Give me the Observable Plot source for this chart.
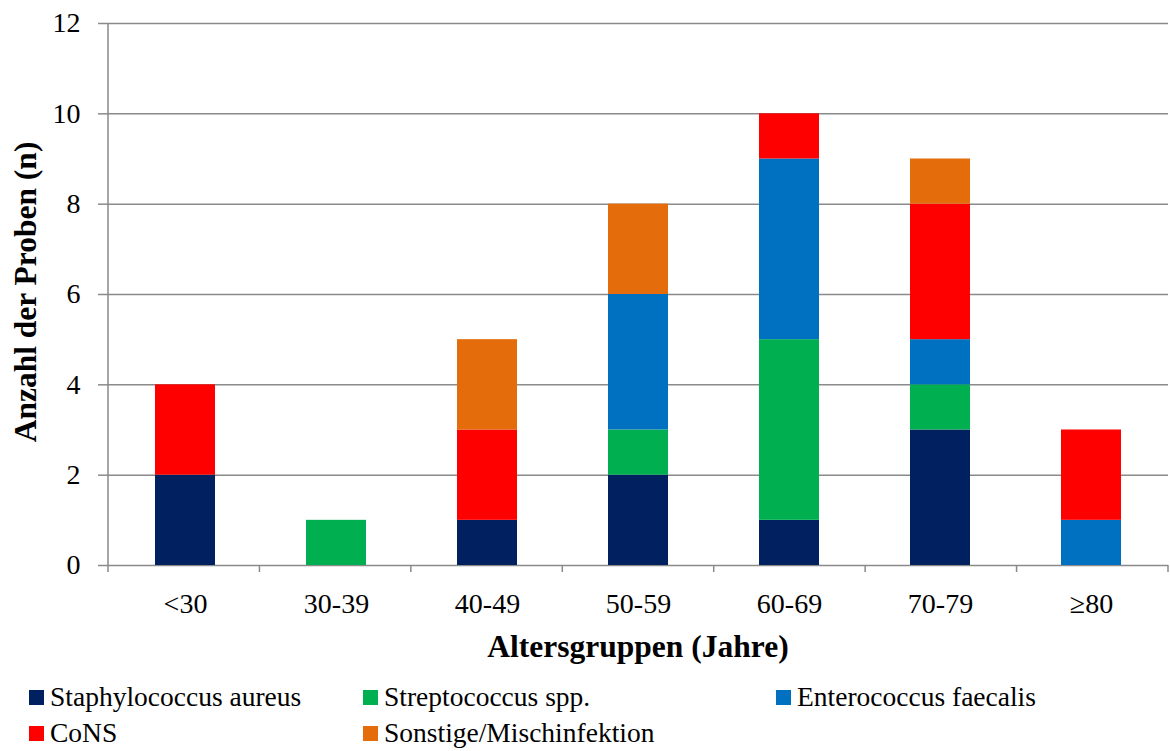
<!DOCTYPE html>
<html>
<head>
<meta charset="utf-8">
<script src="https://cdn.jsdelivr.net/npm/d3@7"></script>
<script src="https://cdn.jsdelivr.net/npm/@observablehq/plot@0.6"></script>
<style>
  body { margin: 0; background: #fff; font-family: "Liberation Serif", serif; }
  #chart { position: relative; width: 1170px; }
  .legend { display: grid; grid-template-columns: 334px 413px auto; padding-left: 29px; padding-top: 9px; font-size: 27.5px; line-height: 36px; color: #000; font-family: "Liberation Serif", serif; }
  .legend .item { display: flex; align-items: center; white-space: nowrap; }
  .legend .sw { width: 15px; height: 15px; margin-right: 6px; flex: none; }
</style>
</head>
<body>
<div id="chart"></div>
<script>
// Age groups (x categories)
const groups = ["<30", "30-39", "40-49", "50-59", "60-69", "70-79", "≥80"];
// Pathogen series, bottom to top in each stack
const species = ["Staphylococcus aureus", "Streptococcus spp.", "Enterococcus faecalis", "CoNS", "Sonstige/Mischinfektion"];
const colors = ["#002060", "#00B050", "#0070C0", "#FF0000", "#E46C0A"];
// Counts per age group for each pathogen
const staphAureus = [2, 0, 1, 2, 1, 3, 0];
const streptococcus = [0, 1, 0, 1, 4, 1, 0];
const enterococcus = [0, 0, 0, 3, 4, 1, 1];
const cons = [2, 0, 2, 0, 1, 3, 2];
const sonstige = [0, 0, 2, 2, 0, 1, 0];
const yTicks = [0, 2, 4, 6, 8, 10, 12];

const seriesValues = [staphAureus, streptococcus, enterococcus, cons, sonstige];
const data = [];
species.forEach((s, si) => groups.forEach((g, gi) => {
  if (seriesValues[si][gi] > 0) data.push({group: g, species: s, n: seriesValues[si][gi]});
}));

const W = 1170, H = 670;
const mL = 108, mR = 2, mT = 23, mB = 105;
const gray = "#8a8a8a";
const font = "Liberation Serif, serif";

// Left axis line and category boundary ticks on the x axis
function frameTicks(index, scales, values, dimensions) {
  const d = dimensions || {width: W, height: H, marginLeft: mL, marginRight: mR, marginTop: mT, marginBottom: mB};
  const g = d3.create("svg:g").attr("stroke", gray).attr("stroke-width", 1.5);
  const x0 = d.marginLeft, x1 = d.width - d.marginRight;
  const yb = d.height - d.marginBottom;
  g.append("line").attr("x1", x0).attr("x2", x0).attr("y1", d.marginTop).attr("y2", yb);
  const step = (x1 - x0) / groups.length;
  for (let k = 0; k <= groups.length; k++) {
    const xx = x0 + k * step;
    g.append("line").attr("x1", xx).attr("x2", xx).attr("y1", yb).attr("y2", yb + 7);
  }
  return g.node();
}

const plot = Plot.plot({
  width: W, height: H,
  marginLeft: mL, marginRight: mR, marginTop: mT, marginBottom: mB,
  style: {fontFamily: font, fontSize: "28px", color: "#000", background: "#fff"},
  x: {domain: groups, paddingInner: 0.6, paddingOuter: 0.3, label: null},
  y: {domain: [0, 12], label: null},
  color: {domain: species, range: colors},
  marks: [
    Plot.gridY(yTicks, {stroke: gray, strokeOpacity: 1, strokeWidth: 1.5}),
    Plot.axisY(yTicks, {tickSize: 10, tickPadding: 18, stroke: gray, strokeWidth: 1.5, fill: "#000", label: null, fontSize: 28, fontFamily: font}),
    Plot.axisX({tickSize: 0, tickPadding: 28, fill: "#000", label: null, fontSize: 28, fontFamily: font}),
    Plot.barY(data, {x: "group", y: "n", fill: "species", order: species}),
    frameTicks
  ]
});

const svg = d3.select(plot);
svg.append("text")
  .attr("transform", `translate(25,292) rotate(-90)`)
  .attr("text-anchor", "middle").attr("dy", "0.35em")
  .attr("font-family", font)
  .attr("font-weight", "bold").attr("font-size", 31.5).attr("fill", "#000")
  .text("Anzahl der Proben (n)");
svg.append("text")
  .attr("x", mL + (W - mL - mR) / 2).attr("y", 657)
  .attr("text-anchor", "middle")
  .attr("font-family", font)
  .attr("font-weight", "bold").attr("font-size", 31.5).attr("fill", "#000")
  .text("Altersgruppen (Jahre)");

document.getElementById("chart").appendChild(plot);

// Legend below the chart
const legend = d3.select("#chart").append("div").attr("class", "legend");
species.forEach((s, i) => {
  const item = legend.append("div").attr("class", "item");
  item.append("span").attr("class", "sw").style("background", colors[i]);
  item.append("span").text(s);
});
</script>
</body>
</html>
